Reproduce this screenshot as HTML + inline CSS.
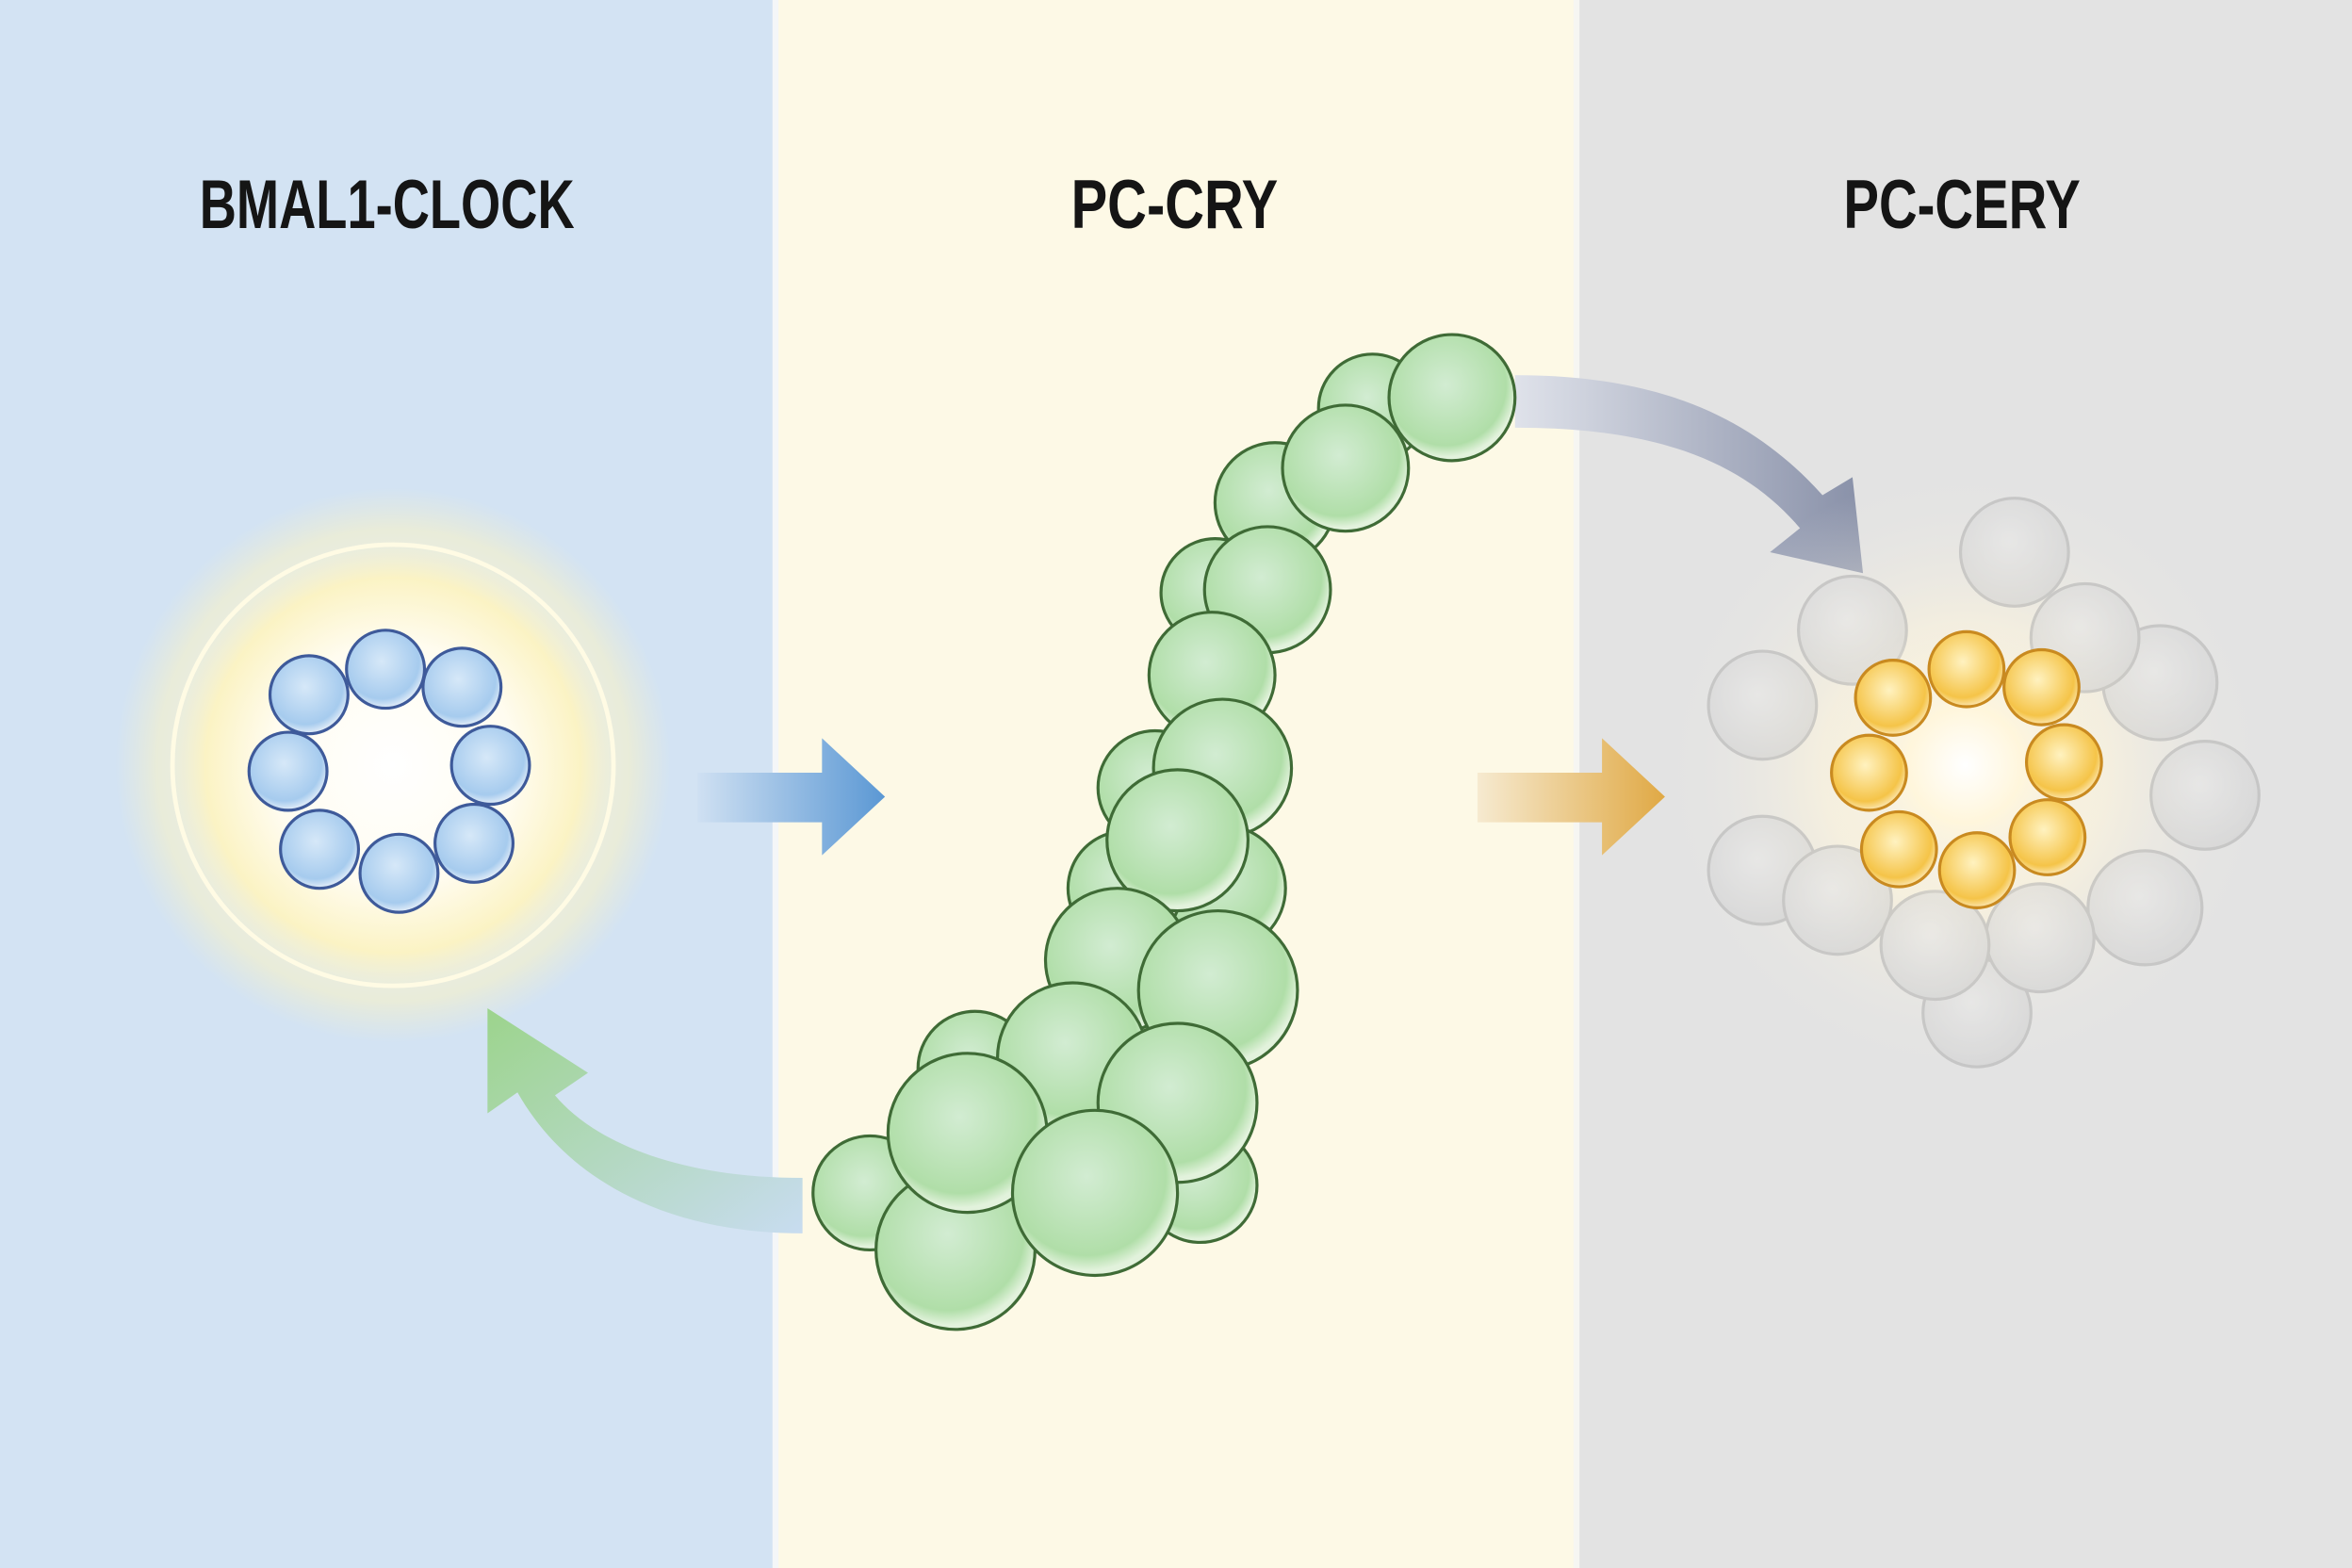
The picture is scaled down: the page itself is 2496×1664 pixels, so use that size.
<!DOCTYPE html>
<html><head><style>html,body{margin:0;padding:0;background:#fff}svg{display:block}</style></head>
<body>
<svg width="2496" height="1664" viewBox="0 0 1568 1045" preserveAspectRatio="none" xmlns="http://www.w3.org/2000/svg">
<defs>
<radialGradient id="glowY" cx="0.5" cy="0.5" r="0.5">
<stop offset="0" stop-color="#ffffff"/><stop offset="0.55" stop-color="#fffcf0"/><stop offset="0.85" stop-color="#fbf3c4"/><stop offset="1" stop-color="#f6f0c8" stop-opacity="0"/>
</radialGradient>
<radialGradient id="glowO" cx="0.5" cy="0.5" r="0.5">
<stop offset="0" stop-color="#ffffff"/><stop offset="0.4" stop-color="#fff6dc"/><stop offset="1" stop-color="#e6e6e6" stop-opacity="0"/>
</radialGradient>
<radialGradient id="blueB" cx="0.45" cy="0.4" r="0.6"><stop offset="0" stop-color="#d6e8f8"/><stop offset="0.8" stop-color="#a6cbee"/><stop offset="1" stop-color="#e4eef8"/></radialGradient>
<radialGradient id="greenB" cx="0.45" cy="0.4" r="0.6"><stop offset="0" stop-color="#d2ecd2"/><stop offset="0.8" stop-color="#b0dea8"/><stop offset="0.95" stop-color="#e2f2dc"/></radialGradient>
<radialGradient id="orB" cx="0.45" cy="0.4" r="0.6"><stop offset="0" stop-color="#fff2c0"/><stop offset="0.8" stop-color="#f5c448"/><stop offset="1" stop-color="#fbe6b0"/></radialGradient>
<radialGradient id="grayB" cx="0.45" cy="0.4" r="0.6"><stop offset="0" stop-color="#e8e8e8"/><stop offset="1" stop-color="#d2d2d2"/></radialGradient>
<linearGradient id="arB" x1="0" x2="1"><stop offset="0" stop-color="#cfe0f2"/><stop offset="1" stop-color="#5b98d4"/></linearGradient>
<linearGradient id="arO" x1="0" x2="1"><stop offset="0" stop-color="#f6ead0"/><stop offset="1" stop-color="#e0a945"/></linearGradient>
<linearGradient id="arG" x1="1" x2="0" y1="1" y2="0"><stop offset="0" stop-color="#c8dcf0"/><stop offset="1" stop-color="#9cd48c"/></linearGradient>
<linearGradient id="arT" x1="0" x2="1"><stop offset="0" stop-color="#dfe2ea"/><stop offset="1" stop-color="#8890a8"/></linearGradient>
</defs>
<rect x="0" y="0" width="517" height="1045" fill="#d3e3f3"/>
<rect x="517" y="0" width="534" height="1045" fill="#fdf9e6"/>
<rect x="1051" y="0" width="517" height="1045" fill="#e3e3e3"/>
<rect x="515" y="0" width="4" height="1045" fill="#f4f6f8"/>
<rect x="1049" y="0" width="4" height="1045" fill="#f6f6f2"/>
<g font-family="'Liberation Sans Narrow','Liberation Sans',sans-serif" font-weight="bold" font-size="46" fill="#151515" text-anchor="middle">
<text x="258" y="152" textLength="250" lengthAdjust="spacingAndGlyphs">BMAL1-CLOCK</text>
<text x="783" y="152" textLength="138" lengthAdjust="spacingAndGlyphs">PC-CRY</text>
<text x="1308" y="152" textLength="158" lengthAdjust="spacingAndGlyphs">PC-CERY</text>
</g>
<circle cx="262" cy="510" r="185" fill="url(#glowY)" opacity="0.55"/>
<circle cx="262" cy="510" r="147" fill="url(#glowY)" stroke="#fffbe4" stroke-width="3"/>
<g stroke="#3e5a9a" stroke-width="2" fill="url(#blueB)">
<circle cx="257" cy="446" r="26"/><circle cx="308" cy="458" r="26"/><circle cx="327" cy="510" r="26"/><circle cx="316" cy="562" r="26"/>
<circle cx="266" cy="582" r="26"/><circle cx="213" cy="566" r="26"/><circle cx="192" cy="514" r="26"/><circle cx="206" cy="463" r="26"/>
</g>
<path d="M465 515 H548 V492 L590 531 L548 570 V548 H465 Z" fill="url(#arB)"/>
<path d="M985 515 H1068 V492 L1110 531 L1068 570 V548 H985 Z" fill="url(#arO)"/>
<path d="M1010 250 C1110 250 1170 280 1215 330 L1235 318 L1242 382 L1180 368 L1200 352 C1160 305 1100 285 1010 285 Z" fill="url(#arT)"/>
<path d="M535 785 C450 785 395 760 370 730 L392 715 L325 672 L325 742 L345 728 C380 790 450 822 535 822 Z" fill="url(#arG)"/>
<g stroke="#3f6b36" stroke-width="2" fill="url(#greenB)">
<circle cx="915" cy="272" r="36"/><circle cx="968" cy="265" r="42"/>
<circle cx="850" cy="335" r="40"/><circle cx="897" cy="312" r="42"/>
<circle cx="810" cy="395" r="36"/><circle cx="845" cy="393" r="42"/>
<circle cx="808" cy="450" r="42"/>
<circle cx="770" cy="525" r="38"/><circle cx="815" cy="512" r="46"/>
<circle cx="815" cy="592" r="42"/><circle cx="750" cy="592" r="38"/><circle cx="785" cy="560" r="47"/>
<circle cx="745" cy="640" r="48"/><circle cx="812" cy="660" r="53"/>
<circle cx="650" cy="712" r="38"/><circle cx="715" cy="705" r="50"/>
<circle cx="800" cy="790" r="38"/><circle cx="785" cy="735" r="53"/>
<circle cx="580" cy="795" r="38"/><circle cx="637" cy="833" r="53"/><circle cx="645" cy="755" r="53"/>
<circle cx="730" cy="795" r="55"/>
</g>
<circle cx="1310" cy="515" r="200" fill="url(#glowO)" opacity="0.8"/>
<g stroke="#b4b4b4" stroke-width="2" fill="url(#grayB)" opacity="0.6">
<circle cx="1343" cy="368" r="36"/><circle cx="1440" cy="455" r="38"/><circle cx="1470" cy="530" r="36"/>
<circle cx="1430" cy="605" r="38"/><circle cx="1318" cy="675" r="36"/><circle cx="1175" cy="470" r="36"/>
<circle cx="1175" cy="580" r="36"/><circle cx="1235" cy="420" r="36"/><circle cx="1390" cy="425" r="36"/>
<circle cx="1225" cy="600" r="36"/><circle cx="1360" cy="625" r="36"/><circle cx="1290" cy="630" r="36"/>
</g>
<circle cx="1310" cy="510" r="95" fill="url(#glowO)"/>
<g stroke="#c98a20" stroke-width="2" fill="url(#orB)">
<circle cx="1311" cy="446" r="25"/><circle cx="1361" cy="458" r="25"/><circle cx="1376" cy="508" r="25"/><circle cx="1365" cy="558" r="25"/>
<circle cx="1318" cy="580" r="25"/><circle cx="1266" cy="566" r="25"/><circle cx="1246" cy="515" r="25"/><circle cx="1262" cy="465" r="25"/>
</g>
</svg>
</body></html>
